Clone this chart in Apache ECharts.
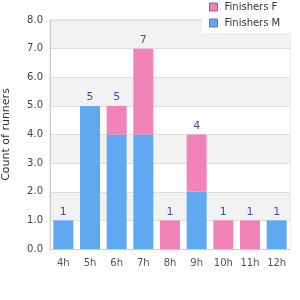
<!DOCTYPE html>
<html><head><meta charset="utf-8">
<script src="https://cdn.jsdelivr.net/npm/echarts@6/dist/echarts.min.js"></script>
<style>html,body{margin:0;padding:0;background:#fff}#c{width:300px;height:300px}</style>
</head><body><div id="c"></div>
<script>
var categories = ['4h','5h','6h','7h','8h','9h','10h','11h','12h'];
var finishersM = [1,5,4,4,0,2,0,0,1];
var finishersF = [0,0,1,3,1,2,1,1,0];
var totals = categories.map(function(c,i){return finishersM[i]+finishersF[i];});
var yTicks = [0,1,2,3,4,5,6,7,8];

var chart = echarts.init(document.getElementById('c'), null, {renderer:'canvas'});
var font = 'DejaVu Sans';
chart.setOption({
  animation:false,
  textStyle:{fontFamily:font},
  grid:{left:50,right:10,top:20,bottom:51,containLabel:false,outerBoundsMode:'none',show:true,borderColor:'#ddd',borderWidth:1,backgroundColor:'transparent'},
  legend:{
    orient:'vertical',left:202,top:0,padding:[1,15,4,7],
    backgroundColor:'#fff',itemWidth:8,itemHeight:8,itemGap:4,
    icon:'rect',
    textStyle:{fontSize:10,color:'#333',fontFamily:font,lineHeight:12,padding:[0,0,0,2]},
    itemStyle:{borderColor:'#777',borderWidth:1},
    data:['Finishers F','Finishers M']
  },
  xAxis:{type:'category',data:categories,
    axisLine:{lineStyle:{color:'#ccc'}},axisTick:{show:false},
    axisLabel:{color:'#555',fontSize:10,fontFamily:font,margin:9}},
  yAxis:{type:'value',min:yTicks[0],max:yTicks[yTicks.length-1],interval:1,
    name:'Count of runners',nameLocation:'middle',nameGap:38,nameRotate:90,
    nameTextStyle:{fontSize:11,color:'#333',fontFamily:font},
    axisLine:{show:true,lineStyle:{color:'#ccc'}},axisTick:{show:false},
    axisLabel:{color:'#444',fontSize:10,fontFamily:font,margin:7,formatter:function(v){return v.toFixed(1);}},
    splitLine:{lineStyle:{color:'#ddd'}},
    splitArea:{show:true,areaStyle:{color:['#ffffff','#f2f2f2']}}},
  series:[
    {name:'Finishers M',type:'bar',stack:'a',data:finishersM,barWidth:20,itemStyle:{color:'#5fa9f2'}},
    {name:'Finishers F',type:'bar',stack:'a',data:finishersF,barWidth:20,itemStyle:{color:'#f283b8'}},
    {name:'total',type:'scatter',data:totals,symbolSize:0,silent:true,
      label:{show:true,position:'top',distance:3,color:'#1a1a8c',fontSize:11,fontFamily:font}}
  ]
});
</script></body></html>
